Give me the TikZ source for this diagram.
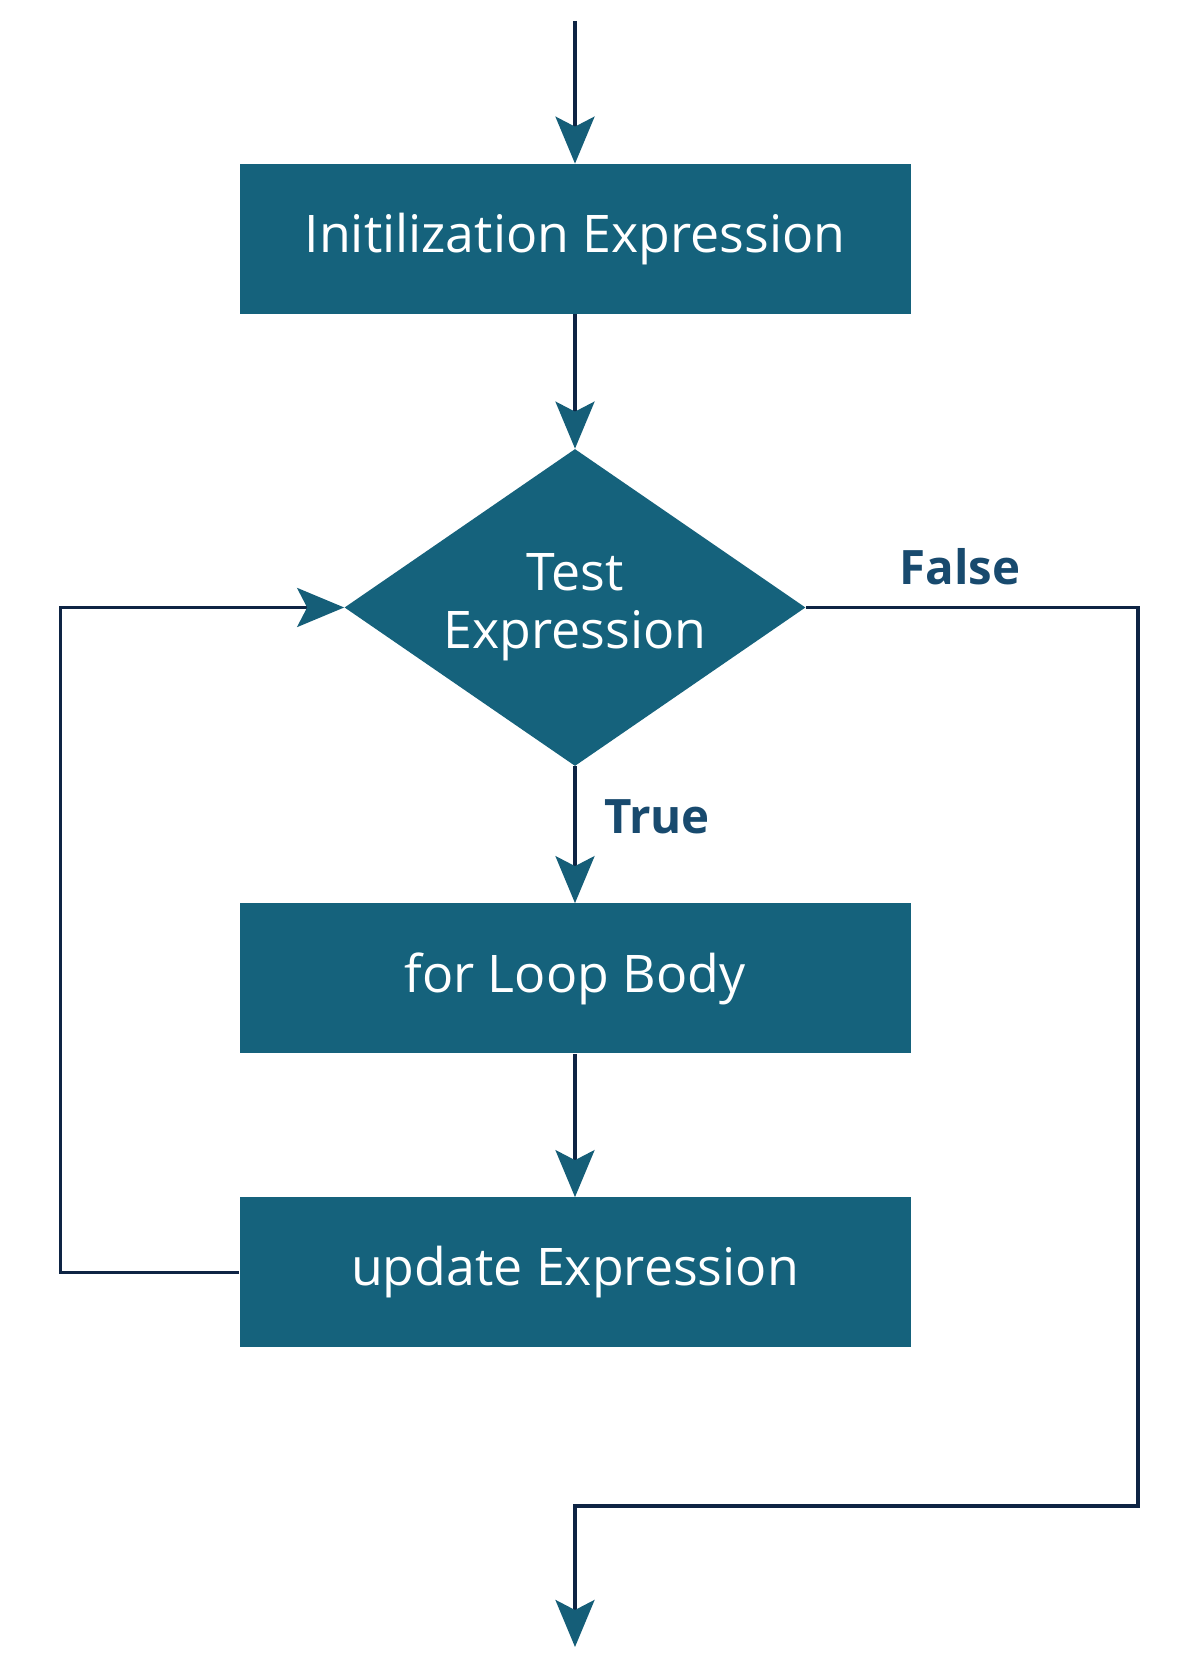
\documentclass[tikz,border=0pt]{standalone}
\usepackage{fontspec}
\setmainfont{Open Sans}
\usepackage{tikz}
\usetikzlibrary{positioning}
\usetikzlibrary{shapes.geometric, arrows.meta, calc}
\definecolor{boxteal}{RGB}{21,98,124}
\definecolor{tipteal}{RGB}{21,94,120}
\definecolor{linenavy}{RGB}{14,36,68}
\definecolor{labelblue}{RGB}{24,74,110}
\tikzstyle{process} = [rectangle, minimum width=13.42cm, minimum height=3cm, inner sep=0pt, fill=boxteal, text=white, font=\fontsize{29.5}{33}\selectfont]
\tikzstyle{decision} = [diamond, aspect=1.45, minimum width=9.22cm, minimum height=6.34cm, inner sep=0pt, fill=boxteal, text=white, align=center, font=\fontsize{29.5}{33}\selectfont]
\tikzstyle{line} = [line width=2pt, draw=linenavy]
\tikzstyle{arrow} = [line, -{Stealth[length=0.94cm, width=0.78cm, inset=0.2cm, color=tipteal]}]
\tikzstyle{branch} = [text=labelblue, font=\fontsize{27}{33}\selectfont\bfseries]

\begin{document}
\begin{tikzpicture}
\useasboundingbox[fill=white] (0,0) rectangle (24,33.36);
\coordinate (start) at (11.5,32.94);
\node (init) [process] at (11.5,28.58) {Initilization Expression};
\node (test) [decision] at (11.5,21.21) {Test\\Expression};
\node (body) [process] at (11.5,13.79) {for Loop Body};
\node (upd) [process] at (11.5,7.91) {update Expression};
\coordinate (lft) at (1.21,21.21);
\coordinate (rgt) at (22.76,3.24);
\coordinate (mrg) at (11.5,3.24);
\coordinate (stop) at (11.5,0.42);
\node (true) [branch] at (13.14,17.02) {True};
\node (false) [branch] at (19.2,22.02) {False};
\draw[arrow] (start) -- (init);
\draw[arrow] (init) -- (test);
\draw[arrow] (test) -- (body);
\draw[arrow] (body) -- (upd);
\draw[arrow] (upd.west) -| (lft) -- (test.west);
\draw[arrow] (test.east) -| (rgt) -- (mrg) -- (stop);
\end{tikzpicture}
\end{document}
